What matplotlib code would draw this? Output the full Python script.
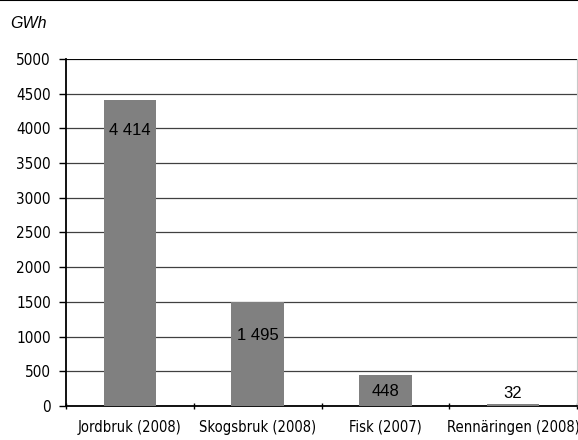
import numpy as np
import matplotlib.pyplot as plt
from matplotlib import font_manager

# --- Data ---------------------------------------------------------------------
categories = ["Jordbruk (2008)", "Skogsbruk (2008)", "Fisk (2007)", "Rennäringen (2008)"]
values = [4414, 1495, 448, 32]
value_labels = ["4 414", "1 495", "448", "32"]
yticks = [0, 500, 1000, 1500, 2000, 2500, 3000, 3500, 4000, 4500, 5000]

# label offsets in points (relative to bar top)
label_offsets = [-22, -24, -12, 2]

# --- Fonts --------------------------------------------------------------------
names = {f.name for f in font_manager.fontManager.ttflist}
if "Liberation Sans Narrow" in names:
    tick_font = dict(family="Liberation Sans Narrow")
else:
    tick_font = dict(family="DejaVu Sans", stretch="condensed")
label_font = "Liberation Sans"

# --- Plot ---------------------------------------------------------------------
fig = plt.figure(figsize=(5.78, 4.40), dpi=100)
ax = fig.add_axes([66 / 578, 1 - 406 / 440, (577 - 66) / 578, (406 - 59) / 440])

x = np.arange(len(categories))
ax.bar(x, values, width=0.41, color="#808080", zorder=3)

for xi, v, lab, off in zip(x, values, value_labels, label_offsets):
    ax.annotate(lab, (xi, v), xytext=(0, off), textcoords="offset points",
                ha="center", va="bottom" if off > 0 else "center",
                fontsize=12, family=label_font, color="black", zorder=4)

ax.set_ylim(0, 5000)
ax.set_xlim(-0.5, len(categories) - 0.5)
ax.set_yticks(yticks)
ax.set_yticklabels([str(t) for t in yticks], fontsize=11, **tick_font)
ax.yaxis.grid(True, color="#404040", linewidth=0.9, zorder=0)

# category ticks sit between categories
ax.set_xticks(np.arange(-0.5, len(categories), 1.0))
ax.set_xticklabels([])
ax.set_xticks(x, minor=True)
ax.set_xticklabels(categories, minor=True, fontsize=10.5, **tick_font)
ax.tick_params(axis="x", which="minor", length=0, pad=10)
ax.tick_params(axis="x", which="major", length=5, direction="inout", width=1)
ax.tick_params(axis="y", length=5, direction="out", width=1, pad=6)

ax.spines["top"].set_visible(False)
ax.spines["right"].set_color("#c8c8c8")
ax.spines["left"].set_linewidth(1.3)
ax.spines["bottom"].set_linewidth(1.3)
ax.axhline(5000, color="black", linewidth=1.3, zorder=2)

fig.text(10 / 578, 1 - 24 / 440, "GWh", fontsize=11.5, style="italic",
         family=label_font, va="center", ha="left")
fig.add_artist(plt.Line2D([0, 1], [1 - 0.5 / 440, 1 - 0.5 / 440], color="black",
                          linewidth=1.5, transform=fig.transFigure))

fig.savefig("out.png", dpi=100)
